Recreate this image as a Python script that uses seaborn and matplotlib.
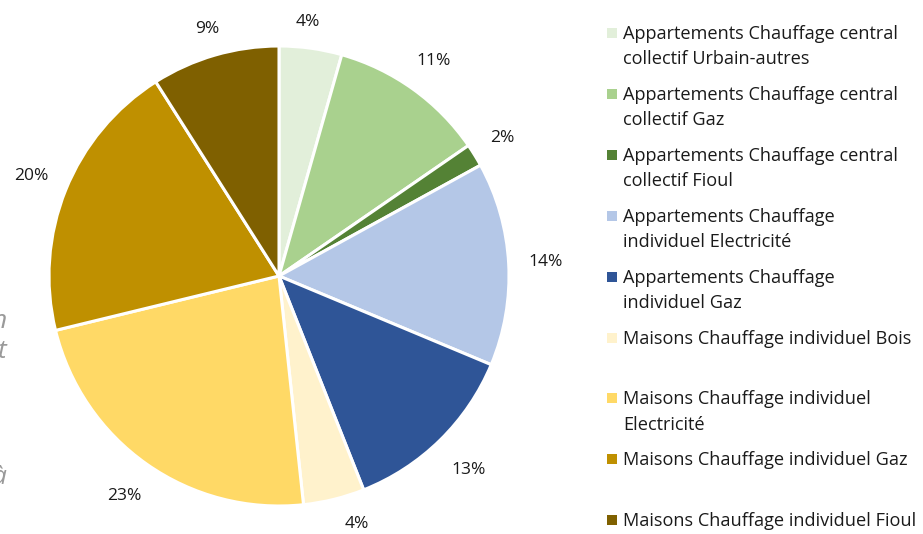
import matplotlib
matplotlib.use("Agg")
import matplotlib.pyplot as plt
import numpy as np
import seaborn as sns

# Parc de logements par type de chauffage (parts en %)
categories = [
    "Appartements Chauffage central\ncollectif Urbain-autres",
    "Appartements Chauffage central\ncollectif Gaz",
    "Appartements Chauffage central\ncollectif Fioul",
    "Appartements Chauffage\nindividuel Electricité",
    "Appartements Chauffage\nindividuel Gaz",
    "Maisons Chauffage individuel Bois",
    "Maisons Chauffage individuel\nElectricité",
    "Maisons Chauffage individuel Gaz",
    "Maisons Chauffage individuel Fioul",
]
shares = [4.4, 11.0, 1.6, 14.3, 12.7, 4.3, 22.9, 19.8, 9.0]
colors = ["#E2EFDA", "#A9D18E", "#548235", "#B4C7E7", "#2F5597",
          "#FFF2CC", "#FFD966", "#BF9000", "#7F6000"]

sns.set_theme(style="white")
plt.rcParams["font.family"] = ["Open Sans", "DejaVu Sans"]
palette = sns.color_palette(colors)

W, H = 923, 534
fig = plt.figure(figsize=(W / 100, H / 100), dpi=100)

# pie axes: centre (279, 276) px, radius 230 px
cx, cy, r = 279, 276, 230
lim = 1.2
side = 2 * r * lim
ax = fig.add_axes([(cx - side / 2) / W, ((H - cy) - side / 2) / H, side / W, side / H])
wedges, texts, autotexts = ax.pie(
    shares, colors=palette, startangle=90, counterclock=False,
    autopct="%.0f%%", pctdistance=1.14,
    wedgeprops=dict(linewidth=2.2, edgecolor="white"),
    textprops=dict(fontsize=12.5, color="#1a1a1a"),
)

# label placement tweaks (distance from centre, angle shift in degrees)
dists = [1.11, 1.15, 1.14, 1.16, 1.18, 1.13, 1.17, 1.16, 1.12]
shifts = [1.5, 0, 0, 0, 0, 3.5, 0, 0, 0]
for w, t, d, s in zip(wedges, autotexts, dists, shifts):
    a = np.deg2rad((w.theta1 + w.theta2) / 2 + s)
    t.set_position((d * np.cos(a), d * np.sin(a)))

ax.set_xlim(-lim, lim)
ax.set_ylim(-lim, lim)
ax.set_aspect("equal")
ax.axis("off")

# legend drawn by hand so the square sits on the first line
lax = fig.add_axes([0, 0, 1, 1])
lax.set_xlim(0, W)
lax.set_ylim(H, 0)
lax.axis("off")
slot_y = [33 + 60.9 * i for i in range(len(categories))]
for name, c, y in zip(categories, palette, slot_y):
    lax.scatter([612], [y], marker="s", s=42, color=c, linewidths=0)
    lax.text(623, y - 8, name, fontsize=13.1, color="#1a1a1a",
             va="top", ha="left", linespacing=1.52)

# cut-off grey italic text on the left edge
for ch, y in [("n", 322), ("t", 352), ("à", 478)]:
    lax.text(7, y, ch, fontsize=19, color="#9a9a9a", style="italic",
             ha="right", va="center")

fig.savefig("out.png", dpi=100)
